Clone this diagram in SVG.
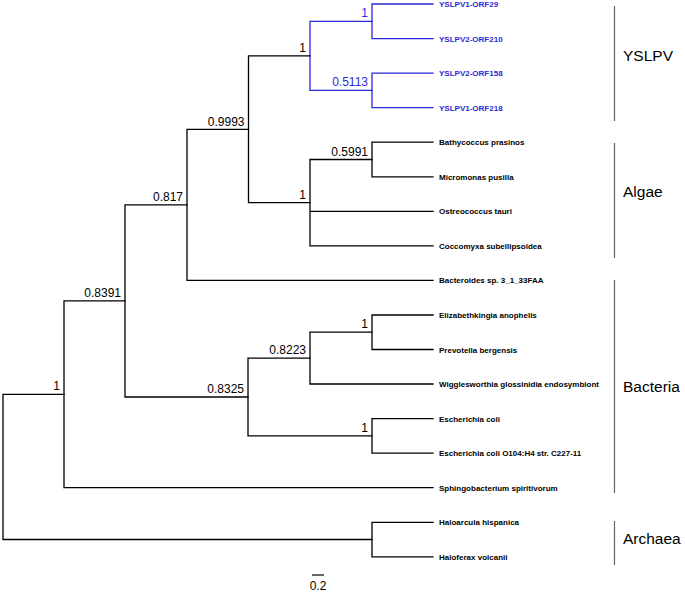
<svg xmlns="http://www.w3.org/2000/svg" width="685" height="593" viewBox="0 0 685 593">
<style>
.br{fill:none;stroke:#000;stroke-width:1.3;stroke-linecap:square}
.bb{fill:none;stroke:#2a2ad8;stroke-width:1.3;stroke-linecap:square}
.leaf{font-family:"Liberation Sans",Arial,sans-serif;font-size:8px;font-weight:bold;fill:#000}
.leafb{font-family:"Liberation Sans",Arial,sans-serif;font-size:8px;font-weight:bold;fill:#2a2ad8}
.sup{font-family:"Liberation Sans",Arial,sans-serif;font-size:12px;fill:#000;text-anchor:end}
.supb{font-family:"Liberation Sans",Arial,sans-serif;font-size:12px;fill:#2a2ad8;text-anchor:end}
.clade{font-family:"Liberation Sans",Arial,sans-serif;font-size:15.5px;fill:#000}
.bar{stroke:#666;stroke-width:1.2}
</style>
<rect width="685" height="593" fill="#fff"/>
<g id="connectors">
<path class="bb" d="M372,4V38.6M372,4H433M372,38.6H433"/>
<path class="bb" d="M372,73.1V107.7M372,73.1H433M372,107.7H433"/>
<path class="bb" d="M310,21.3V90.4M310,21.3H372M310,90.4H372"/>
<path class="br" d="M372,142.2V176.8M372,142.2H433M372,176.8H433"/>
<path class="br" d="M310,159.5V245.9M310,159.5H372M310,211.3H433M310,245.9H433"/>
<path class="br" d="M248.5,55.8V202.7M248.5,55.8H310M248.5,202.7H310"/>
<path class="br" d="M187,129.3V280.4M187,129.3H248.5M187,280.4H433"/>
<path class="br" d="M372,315V349.5M372,315H433M372,349.5H433"/>
<path class="br" d="M310,332.2V384M310,332.2H372M310,384H433"/>
<path class="br" d="M372,418.6V453.2M372,418.6H433M372,453.2H433"/>
<path class="br" d="M248,358.1V435.9M248,358.1H310M248,435.9H372"/>
<path class="br" d="M125,204.8V397M125,204.8H187M125,397H248"/>
<path class="br" d="M64,300.9V487.7M64,300.9H125M64,487.7H433"/>
<path class="br" d="M372,522.3V556.8M372,522.3H433M372,556.8H433"/>
<path class="br" d="M3,394.3V539.5M3,394.3H64M3,539.5H372"/>
</g>
<g id="support-values">
<text class="supb" x="368" y="17">1</text>
<text class="supb" x="368" y="86">0.5113</text>
<text class="sup" x="306" y="51.5">1</text>
<text class="sup" x="368" y="155.5">0.5991</text>
<text class="sup" x="306" y="198.5">1</text>
<text class="sup" x="244.5" y="125.5">0.9993</text>
<text class="sup" x="183" y="200.8">0.817</text>
<text class="sup" x="368" y="328">1</text>
<text class="sup" x="306" y="354">0.8223</text>
<text class="sup" x="368" y="432">1</text>
<text class="sup" x="244" y="393">0.8325</text>
<text class="sup" x="121" y="297">0.8391</text>
<text class="sup" x="60" y="390.3">1</text>
</g>
<g id="leaves">
<g id="n-yslpv1-orf29"><text class="leafb" x="439" y="7">YSLPV1-ORF29</text></g>
<g id="n-yslpv2-orf210"><text class="leafb" x="439" y="41.6">YSLPV2-ORF210</text></g>
<g id="n-yslpv2-orf158"><text class="leafb" x="439" y="76.1">YSLPV2-ORF158</text></g>
<g id="n-yslpv1-orf218"><text class="leafb" x="439" y="110.7">YSLPV1-ORF218</text></g>
<g id="n-bathycoccus"><text class="leaf" x="439" y="145.2">Bathycoccus prasinos</text></g>
<g id="n-micromonas"><text class="leaf" x="439" y="179.8">Micromonas pusilla</text></g>
<g id="n-ostreococcus"><text class="leaf" x="439" y="214.3">Ostreococcus tauri</text></g>
<g id="n-coccomyxa"><text class="leaf" x="439" y="248.9">Coccomyxa subellipsoidea</text></g>
<g id="n-bacteroides"><text class="leaf" x="439" y="283.4">Bacteroides sp. 3_1_33FAA</text></g>
<g id="n-elizabethkingia"><text class="leaf" x="439" y="318">Elizabethkingia anophelis</text></g>
<g id="n-prevotella"><text class="leaf" x="439" y="352.5">Prevotella bergensis</text></g>
<g id="n-wigglesworthia"><text class="leaf" x="439" y="387">Wigglesworthia glossinidia endosymbiont</text></g>
<g id="n-ecoli"><text class="leaf" x="439" y="421.6">Escherichia coli</text></g>
<g id="n-ecoli-o104"><text class="leaf" x="439" y="456.2">Escherichia coli O104:H4 str. C227-11</text></g>
<g id="n-sphingobacterium"><text class="leaf" x="439" y="490.7">Sphingobacterium spiritivorum</text></g>
<g id="n-haloarcula"><text class="leaf" x="439" y="525.3">Haloarcula hispanica</text></g>
<g id="n-haloferax"><text class="leaf" x="439" y="559.8">Haloferax volcanii</text></g>
</g>
<g id="clades">
<g id="c-yslpv"><line class="bar" x1="614.5" y1="6" x2="614.5" y2="121"/><text class="clade" x="623" y="61">YSLPV</text></g>
<g id="c-algae"><line class="bar" x1="614.5" y1="143" x2="614.5" y2="258"/><text class="clade" x="623" y="197">Algae</text></g>
<g id="c-bacteria"><line class="bar" x1="614.5" y1="280" x2="614.5" y2="493"/><text class="clade" x="623" y="392">Bacteria</text></g>
<g id="c-archaea"><line class="bar" x1="614.5" y1="521" x2="614.5" y2="565"/><text class="clade" x="623" y="544">Archaea</text></g>
</g>
<g id="scale">
<line x1="312" y1="575" x2="324" y2="575" stroke="#000" stroke-width="1.2"/>
<text x="318" y="590" font-family="Liberation Sans, Arial, sans-serif" font-size="12" text-anchor="middle">0.2</text>
</g>
</svg>
